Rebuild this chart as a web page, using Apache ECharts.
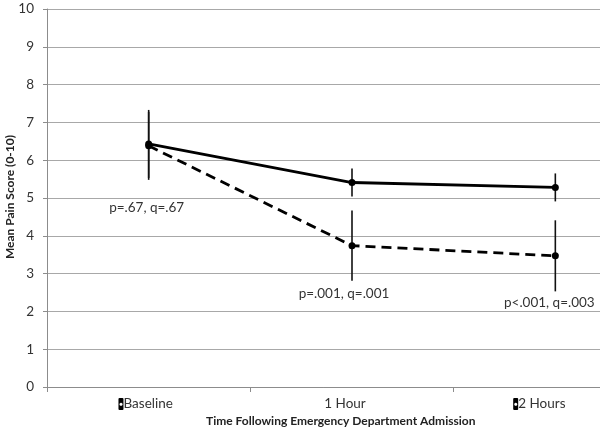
<!DOCTYPE html>
<html>
<head>
<meta charset="utf-8">
<script src="https://cdn.jsdelivr.net/npm/echarts@6/dist/echarts.min.js"></script>
<style>html,body{margin:0;padding:0;background:#fff}#c{width:600px;height:435px}</style>
</head>
<body>
<div id="c"></div>
<script>
const categories = ['Baseline', '1 Hour', '2 Hours'];
const solidMeans = [6.43, 5.41, 5.28];
const solidErr = [0.90, 0.37, 0.37];
const dashedMeans = [6.38, 3.74, 3.47];
const dashedErr = [0.90, 0.93, 0.94];
const pLabels = ['p=.67, q=.67', 'p=.001, q=.001', 'p<.001, q=.003'];
const yTicks = [0, 1, 2, 3, 4, 5, 6, 7, 8, 9, 10];

const FONT = 'Lato';
const chart = echarts.init(document.getElementById('c'), null, {renderer: 'canvas'});

function errData(means, errs) {
  return means.map((m, i) => [i, m - errs[i], m + errs[i]]);
}
function errRender(params, api) {
  const i = api.value(0);
  const lo = api.coord([i, api.value(1)]);
  const hi = api.coord([i, api.value(2)]);
  return {type: 'line', shape: {x1: lo[0], y1: lo[1], x2: hi[0], y2: hi[1]},
    style: {stroke: '#111', lineWidth: 1.6}};
}
const labelOffsets = [[-2, 28], [-8, 13], [-6, 11]];
function annRender(params, api) {
  const i = api.value(0);
  const p = api.coord([i, api.value(1)]);
  const o = labelOffsets[params.dataIndex];
  return {type: 'text', style: {text: pLabels[params.dataIndex], x: p[0] + o[0], y: p[1] + o[1],
    align: 'center', verticalAlign: 'middle', fill: '#333', font: '13.5px ' + FONT}};
}
const labelShift = [6, 14, 32];

chart.setOption({
  animation: false,
  backgroundColor: '#fff',
  grid: {left: 47, top: 9, width: 610, height: 378, containLabel: false, outerBoundsMode: 'none'},
  xAxis: {
    type: 'category', data: categories, boundaryGap: true,
    axisLine: {lineStyle: {color: '#8c8c8c', width: 1}},
    axisTick: {show: true, length: 5, lineStyle: {color: '#8c8c8c'}},
    axisLabel: {
      margin: 10, color: '#333', fontFamily: FONT, fontSize: 13.5,
      formatter: function (v, idx) {
        const mk = idx === 1 ? '' : '{mk|●}';
        return mk + '{t|' + v + '}{s' + idx + '|}';
      },
      rich: {
        mk: {backgroundColor: '#000', color: '#fff', width: 5, height: 12, align: 'center', fontSize: 6, borderRadius: 1},
        t: {color: '#333', fontFamily: FONT, fontSize: 13.5},
        s0: {width: labelShift[0]}, s1: {width: labelShift[1]}, s2: {width: labelShift[2]}
      }
    },
    splitLine: {show: false}
  },
  yAxis: {
    type: 'value', min: 0, max: 10, interval: 1,
    axisLine: {show: true, lineStyle: {color: '#8c8c8c', width: 1}},
    axisTick: {show: true, length: 4, lineStyle: {color: '#8c8c8c'}},
    axisLabel: {margin: 13, color: '#333', fontFamily: FONT, fontSize: 13.5,
      formatter: v => yTicks.includes(v) ? String(v) : ''},
    splitLine: {show: true, lineStyle: {color: '#a8a8a8', width: 1}}
  },
  graphic: [{
    type: 'text', left: 342 - 136, top: 415,
    style: {text: 'Time Following Emergency Department Admission', font: 'bold 12px ' + FONT, fill: '#222'}
  }, {
    type: 'text', x: 10, y: 197, rotation: Math.PI / 2,
    style: {text: 'Mean Pain Score (0-10)', font: 'bold 12px ' + FONT, fill: '#222', align: 'center', verticalAlign: 'middle'}
  }],
  series: [
    {type: 'custom', name: 'solidErr', renderItem: errRender, data: errData(solidMeans, solidErr), z: 1},
    {type: 'custom', name: 'dashedErr', renderItem: errRender, data: errData(dashedMeans, dashedErr), z: 1},
    {type: 'line', name: 'Dashed', data: dashedMeans, symbol: 'circle', symbolSize: 7,
      lineStyle: {color: '#000', width: 2.8, type: [10, 6]}, itemStyle: {color: '#000'}, z: 2},
    {type: 'line', name: 'Solid', data: solidMeans, symbol: 'circle', symbolSize: 7,
      lineStyle: {color: '#000', width: 2.8}, itemStyle: {color: '#000'}, z: 3},
    {type: 'custom', name: 'ann', renderItem: annRender,
      data: dashedMeans.map((m, i) => [i, m - dashedErr[i]]), z: 4}
  ]
});
</script>
</body>
</html>
